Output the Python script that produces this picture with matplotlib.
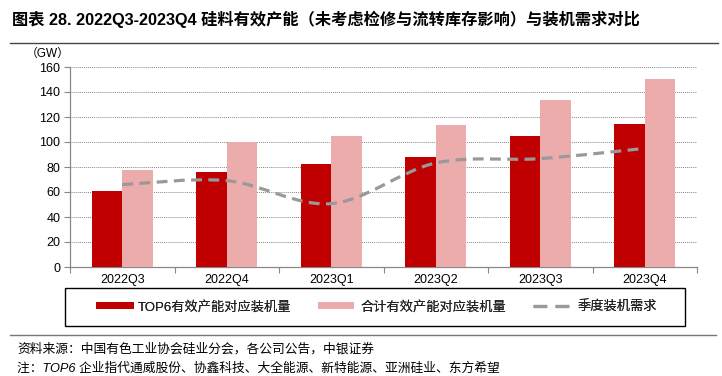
import matplotlib
matplotlib.use("Agg")
import matplotlib.pyplot as plt
import numpy as np
from matplotlib.path import Path
from matplotlib.patches import PathPatch, Patch, Rectangle
from matplotlib.lines import Line2D

plt.rcParams['font.family'] = ['Liberation Sans', 'Noto Sans CJK SC', 'DejaVu Sans']

categories = ["2022Q3", "2022Q4", "2023Q1", "2023Q2", "2023Q3", "2023Q4"]
top6 = [60.8, 75.7, 82.4, 87.7, 104.8, 114.7]
total = [77.9, 99.7, 104.8, 113.6, 133.6, 150.7]
demand = [65.9, 69.1, 50.7, 83.2, 86.7, 94.9]
yticks = [0, 20, 40, 60, 80, 100, 120, 140, 160]

series_names = ["TOP6有效产能对应装机量", "合计有效产能对应装机量", "季度装机需求"]
title = "图表 28. 2022Q3-2023Q4 硅料有效产能（未考虑检修与流转库存影响）与装机需求对比"
unit = "（GW）"
source = "资料来源：中国有色工业协会硅业分会，各公司公告，中银证券"
note = "注：TOP6 企业指代通威股份、协鑫科技、大全能源、新特能源、亚洲硅业、东方希望"

red = "#C00000"
pink = "#ECACAC"
gray_line = "#999999"
dash = (0, (3.4, 2.0))

fig = plt.figure(figsize=(7.22, 3.76), dpi=100)
ax = fig.add_axes([70/722, 1-267/376, 627/722, 200/376])

x = np.arange(len(categories))
w = 0.29
ax.bar(x - w/2, top6, width=w, color=red, zorder=3)
ax.bar(x + w/2, total, width=w, color=pink, zorder=3)

# smooth (Catmull-Rom -> Bezier) demand line
pts = np.column_stack([x.astype(float), np.array(demand, dtype=float)])
ext = np.vstack([pts[0], pts, pts[-1]])
verts = [tuple(pts[0])]
codes = [Path.MOVETO]
for i in range(len(pts) - 1):
    p0, p1, p2, p3 = ext[i], ext[i+1], ext[i+2], ext[i+3]
    c1 = p1 + (p2 - p0) / 6.0
    c2 = p2 - (p3 - p1) / 6.0
    verts += [tuple(c1), tuple(c2), tuple(p2)]
    codes += [Path.CURVE4] * 3
pp = PathPatch(Path(verts, codes), facecolor='none', edgecolor=gray_line,
               lw=2.3, linestyle=dash, zorder=4, capstyle='butt')
ax.add_patch(pp)

ax.set_xlim(-0.5, len(categories) - 0.5)
ax.set_ylim(0, 160)
ax.set_yticks(yticks)
ax.set_yticklabels([str(v) for v in yticks], fontsize=9)
ax.set_xticks(x)
ax.set_xticklabels(categories, fontsize=9)
ax.set_xticks(np.arange(-0.5, len(categories), 1.0), minor=True)
ax.tick_params(axis='x', which='major', length=0, pad=5)
ax.tick_params(axis='x', which='minor', length=4, color='#888888', width=0.8)
ax.tick_params(axis='y', length=4, color='#888888', width=0.8, pad=3)

ax.grid(axis='y', color='#888888', linestyle=(0, (1, 1)), linewidth=0.7, zorder=0)
for s in ['top', 'right']:
    ax.spines[s].set_visible(False)
for s in ['left', 'bottom']:
    ax.spines[s].set_color('#888888')
    ax.spines[s].set_linewidth(0.9)

ax.text(-0.035, 1.035, unit, transform=ax.transAxes, fontsize=8.5, ha='center', va='bottom')

# legend: frame + three single-entry legends
fig.add_artist(Rectangle((65/722, 1-326/376), 620/722, 38/376, transform=fig.transFigure,
                         facecolor='none', edgecolor='black', lw=1.0))
handles = [Patch(facecolor=red, edgecolor='none'),
           Patch(facecolor=pink, edgecolor='none'),
           Line2D([0], [0], color=gray_line, lw=2.3, linestyle=(0, (4.3, 2.6)))]
starts = [96, 318, 533]
hlens = [2.85, 2.7, 3.35]
pads = [0.3, 0.55, 0.05]
yc = 1 - 307/376
for h, name, sx, hl, pd in zip(handles, series_names, starts, hlens, pads):
    lg = fig.legend([h], [name], loc='center left', bbox_to_anchor=(sx/722, yc),
                    frameon=False, fontsize=9.5, handlelength=hl, handleheight=0.5,
                    handletextpad=pd, borderpad=0, borderaxespad=0)
    for t in lg.get_texts():
        t.set_color('#222222')
    fig.add_artist(lg)

fig.text(12/722, 1-19/376, title, fontsize=11.7, fontweight='bold', ha='left', va='center')
fig.add_artist(Line2D([10/722, 718/722], [1-43/376, 1-43/376], color='#444444', lw=1.0))
fig.add_artist(Line2D([10/722, 716/722], [1-335/376, 1-335/376], color='#777777', lw=1.0))
fig.text(17/722, 1-349/376, source, fontsize=9.2, style='italic', ha='left', va='center')
fig.text(17/722, 1-369/376, note, fontsize=9.2, style='italic', ha='left', va='center')

fig.savefig("out.png", dpi=100)
